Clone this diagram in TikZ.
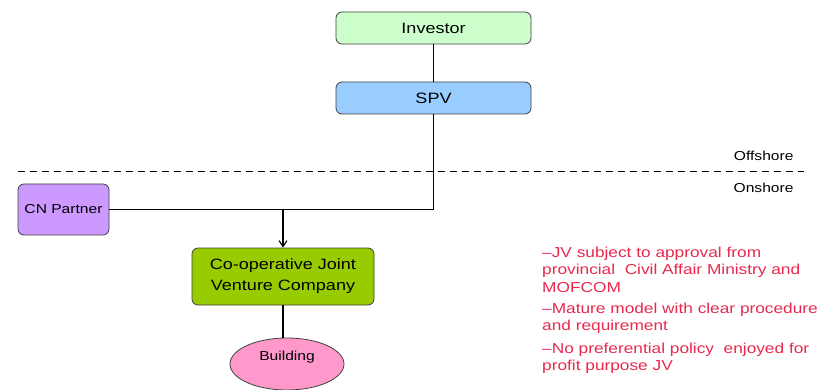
\documentclass[tikz,border=0pt]{standalone}
\usepackage{fontspec}
\setmainfont{Liberation Sans}[FakeStretch=1.2]
\usetikzlibrary{arrows.meta,shapes.geometric}
\definecolor{investorgreen}{HTML}{CCFFCC}
\definecolor{spvblue}{HTML}{99CCFF}
\definecolor{partnerpurple}{HTML}{CC99FF}
\definecolor{jvgreen}{HTML}{99CC00}
\definecolor{buildingpink}{HTML}{FF99CC}
\definecolor{notered}{HTML}{E8294D}
\tikzset{
  entity/.style={draw=black!75, line width=0.8pt, rounded corners=6pt, inner sep=0pt},
  link/.style={line width=1.1pt},
  note/.style={anchor=north west, inner sep=0pt, align=left, text=notered,
    font=\fontsize{14.4}{17.5}\selectfont},
}

\begin{document}
\begin{tikzpicture}
    [x=1pt,y=-1pt]
    \useasboundingbox (0,0) rectangle (819,390);
    % offshore / onshore border
    \draw [dash pattern=on 7pt off 5pt, line width=0.8pt] (18,171) -- (804,171);
    \node [anchor=east, font=\fontsize{13}{15}\selectfont] (offshore) at (797,156) {Offshore};
    \node [anchor=east, font=\fontsize{13}{15}\selectfont] (onshore) at (797,188) {Onshore};

    \node [entity, fill=investorgreen, minimum width=195pt, minimum height=32pt,
      font=\fontsize{15}{18}\selectfont] (investor) at (433.5,28) {Investor};
    \node [entity, fill=spvblue, minimum width=195pt, minimum height=32pt,
      font=\fontsize{15}{18}\selectfont] (spv) at (433.5,98) {SPV};
    \node [entity, fill=partnerpurple, minimum width=91pt, minimum height=51pt,
      font=\fontsize{13}{15}\selectfont] (partner) at (63.5,209.5) {CN Partner};
    \node [entity, fill=jvgreen, minimum width=182pt, minimum height=57pt, align=center,
      font=\fontsize{15}{21}\selectfont] (cjv) at (283,276.5) {Co-operative Joint\\Venture Company};
    \node [draw=black!75, line width=0.8pt, ellipse, fill=buildingpink, minimum width=114pt,
      minimum height=52pt, inner sep=0pt] (building) at (287,364) {};
    \node [font=\fontsize{13}{15}\selectfont] (buildinglabel) at ([yshift=7pt]building.center) {Building};

    \draw [link] (investor) -- (spv);
    \draw [link] (spv.south) |- (partner.east);
    \coordinate (split) at (partner.east -| cjv.north);
    \draw [link, -{Straight Barb[length=6pt,width=8pt]}] (split) -- (cjv.north);
    \draw [link] (cjv.south) -- (cjv.south |- building.north);

    \node [note] (note1) at (542,246.5) {--JV subject to approval from\\provincial\ \ Civil Affair Ministry and\\MOFCOM};
    \node [note] (note2) at (542,302.5) {--Mature model with clear procedure\\and requirement};
    \node [note] (note3) at (542,342.5) {--No preferential policy\ \ enjoyed for\\profit purpose JV};
\end{tikzpicture}
\end{document}
